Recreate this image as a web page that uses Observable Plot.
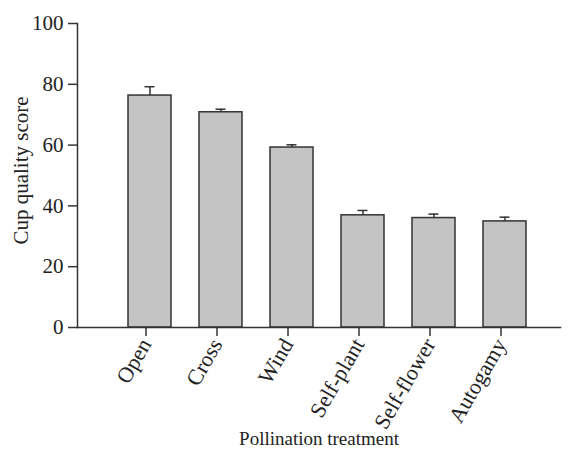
<!DOCTYPE html>
<html>
<head>
<meta charset="utf-8">
<script src="https://cdn.jsdelivr.net/npm/d3@7"></script>
<script src="https://cdn.jsdelivr.net/npm/@observablehq/plot@0.6"></script>
<style>
  html, body { margin: 0; padding: 0; background: #fff; }
  #chart svg { display: block; }
</style>
</head>
<body>
<div id="chart"></div>
<script>
const treatments = ["Open", "Cross", "Wind", "Self-plant", "Self-flower", "Autogamy"];
const means = [76.3, 70.8, 59.2, 36.9, 36.0, 34.9];
const upper = [79.2, 71.8, 60.1, 38.5, 37.3, 36.3];
const yTicks = [0, 20, 40, 60, 80, 100];

const data = treatments.map((t, i) => ({treatment: t, mean: means[i], upper: upper[i]}));

const font = "'Liberation Serif', 'Times New Roman', serif";
const ink = "#333";

const chart = Plot.plot({
  width: 574,
  height: 456,
  marginLeft: 77,
  marginRight: 14,
  marginTop: 23,
  marginBottom: 129,
  style: {fontFamily: font, background: "#fff", color: ink},
  x: {domain: treatments, range: [98, 555], padding: 0.4, label: null},
  y: {domain: [0, 100], label: null},
  marks: [
    Plot.ruleX(data, {x: "treatment", y1: "mean", y2: "upper", stroke: ink, strokeWidth: 1.5}),
    Plot.tickY(data, {x: "treatment", y: "upper", stroke: ink, strokeWidth: 1.5, insetLeft: 16.5, insetRight: 16.5}),
    Plot.barY(data, {x: "treatment", y: "mean", fill: "#c4c4c4", stroke: ink, strokeWidth: 1.5}),
    Plot.frame({anchor: "left", stroke: ink, strokeWidth: 1.5}),
    Plot.frame({anchor: "bottom", stroke: ink, strokeWidth: 1.5}),
    Plot.axisY({ticks: yTicks, tickSize: 9, tickPadding: 5, fontSize: 21, stroke: ink, strokeWidth: 1.5, fill: "#222", label: null}),
    Plot.axisX({tickSize: 9, tickPadding: 4, tickRotate: -60, dx: -4, fontSize: 22, stroke: ink, strokeWidth: 1.5, fill: "#222", label: null}),
    Plot.text(["Cup quality score"], {frameAnchor: "left", textAnchor: "middle", dx: -56, dy: -5, rotate: -90, fontSize: 21, fill: "#222"}),
    Plot.text(["Pollination treatment"], {frameAnchor: "bottom", dy: 117, fontSize: 19, fill: "#222"})
  ]
});
document.getElementById("chart").appendChild(chart);
</script>
</body>
</html>
